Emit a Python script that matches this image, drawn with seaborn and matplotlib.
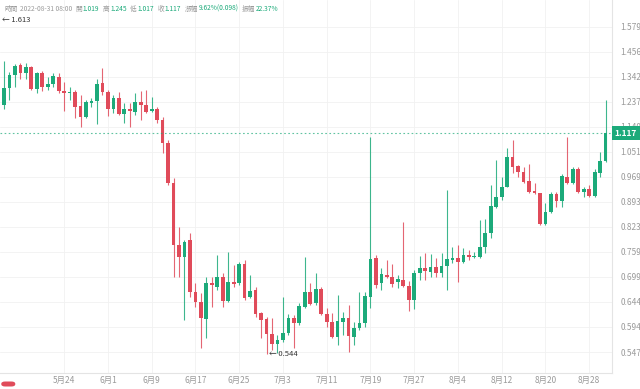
import numpy as np
import pandas as pd
import matplotlib
matplotlib.use("Agg")
import matplotlib.pyplot as plt
import matplotlib.dates as mdates
import matplotlib.transforms as mtransforms
from matplotlib.ticker import FixedLocator, NullLocator
from matplotlib.offsetbox import TextArea, HPacker, AnchoredOffsetbox
from matplotlib.patches import FancyBboxPatch
import seaborn as sns

# daily candles, 2022-05-13 .. 2022-08-31
dates = pd.date_range("2022-05-13", "2022-08-31", freq="D")

opens = [1.224, 1.294, 1.350, 1.395, 1.359, 1.386, 1.290, 1.359, 1.298, 1.311,
         1.341, 1.282, 1.273, 1.277, 1.220, 1.177, 1.232, 1.240, 1.316, 1.277,
         1.208, 1.253, 1.189, 1.208, 1.197, 1.236, 1.224, 1.201, 1.208, 1.166,
         1.082, 0.949, 0.775, 0.746, 0.788, 0.665, 0.644, 0.609, 0.685, 0.676,
         0.699, 0.646, 0.687, 0.685, 0.729, 0.654, 0.670, 0.621, 0.609, 0.580,
         0.561, 0.569, 0.582, 0.611, 0.601, 0.633, 0.665, 0.642, 0.672, 0.619,
         0.603, 0.574, 0.603, 0.611, 0.574, 0.592, 0.601, 0.654, 0.743, 0.685,
         0.703, 0.699, 0.687, 0.692, 0.678, 0.648, 0.708, 0.719, 0.710, 0.722,
         0.708, 0.724, 0.738, 0.743, 0.734, 0.750, 0.746, 0.746, 0.770, 0.806,
         0.878, 0.907, 0.937, 1.033, 1.003, 0.984, 0.956, 0.925, 0.918, 0.830,
         0.864, 0.916, 0.895, 0.968, 0.949, 0.994, 0.922, 0.931, 0.910, 0.980,
         1.019]
highs = [1.413, 1.364, 1.399, 1.404, 1.404, 1.390, 1.364, 1.368, 1.341, 1.359,
         1.359, 1.320, 1.298, 1.286, 1.265, 1.245, 1.253, 1.333, 1.381, 1.286,
         1.265, 1.277, 1.232, 1.232, 1.273, 1.282, 1.286, 1.257, 1.216, 1.177,
         1.092, 0.965, 0.822, 0.788, 0.806, 0.685, 0.663, 0.699, 0.699, 0.750,
         0.708, 0.758, 0.726, 0.734, 0.738, 0.703, 0.676, 0.623, 0.613, 0.611,
         0.578, 0.654, 0.619, 0.617, 0.642, 0.746, 0.685, 0.708, 0.676, 0.631,
         0.621, 0.659, 0.623, 0.638, 0.603, 0.665, 0.665, 1.103, 0.750, 0.719,
         0.738, 0.729, 0.703, 0.836, 0.690, 0.715, 0.748, 0.755, 0.753, 0.743,
         0.755, 0.928, 0.770, 0.775, 0.768, 0.763, 0.758, 0.841, 0.844, 0.943,
         1.023, 0.968, 1.064, 1.092, 1.007, 1.000, 1.010, 0.949, 0.920, 0.889,
         0.922, 0.922, 0.977, 1.103, 1.000, 1.000, 0.937, 0.943, 0.994, 1.050,
         1.245]
lows = [1.208, 1.245, 1.298, 1.333, 1.333, 1.286, 1.273, 1.282, 1.286, 1.298,
        1.273, 1.201, 1.245, 1.173, 1.139, 1.173, 1.216, 1.151, 1.265, 1.181,
        1.193, 1.185, 1.155, 1.139, 1.185, 1.166, 1.193, 1.197, 1.155, 1.047,
        0.943, 0.699, 0.699, 0.607, 0.654, 0.633, 0.554, 0.573, 0.633, 0.670,
        0.633, 0.644, 0.676, 0.680, 0.648, 0.652, 0.613, 0.573, 0.544, 0.551,
        0.546, 0.565, 0.578, 0.554, 0.597, 0.631, 0.638, 0.638, 0.617, 0.593,
        0.573, 0.560, 0.578, 0.547, 0.560, 0.588, 0.593, 0.631, 0.674, 0.670,
        0.696, 0.676, 0.674, 0.676, 0.625, 0.629, 0.692, 0.692, 0.699, 0.699,
        0.699, 0.670, 0.731, 0.687, 0.731, 0.738, 0.743, 0.743, 0.755, 0.793,
        0.875, 0.898, 0.937, 0.980, 0.968, 0.949, 0.918, 0.916, 0.828, 0.828,
        0.861, 0.878, 0.878, 0.947, 0.946, 0.918, 0.907, 0.907, 0.907, 0.968,
        1.017]
closes = [1.294, 1.350, 1.390, 1.359, 1.386, 1.290, 1.359, 1.298, 1.311, 1.346,
          1.282, 1.273, 1.277, 1.216, 1.177, 1.236, 1.240, 1.311, 1.277, 1.208,
          1.253, 1.189, 1.208, 1.201, 1.236, 1.224, 1.197, 1.208, 1.166, 1.082,
          0.949, 0.775, 0.746, 0.783, 0.665, 0.644, 0.611, 0.685, 0.680, 0.699,
          0.646, 0.687, 0.683, 0.729, 0.652, 0.667, 0.619, 0.607, 0.580, 0.561,
          0.569, 0.582, 0.611, 0.601, 0.635, 0.665, 0.640, 0.672, 0.619, 0.603,
          0.574, 0.605, 0.611, 0.576, 0.592, 0.601, 0.657, 0.741, 0.680, 0.705,
          0.699, 0.683, 0.694, 0.678, 0.648, 0.708, 0.719, 0.712, 0.722, 0.708,
          0.724, 0.741, 0.743, 0.734, 0.750, 0.746, 0.748, 0.770, 0.806, 0.881,
          0.907, 0.937, 1.033, 1.000, 0.984, 0.952, 0.922, 0.918, 0.830, 0.864,
          0.916, 0.895, 0.971, 0.949, 0.994, 0.922, 0.931, 0.910, 0.984, 1.019,
          1.117]

ytick_vals = [1.579, 1.456, 1.342, 1.237, 1.140, 1.051, 0.969, 0.893, 0.823,
              0.759, 0.699, 0.644, 0.594, 0.547]
xtick_dates = pd.date_range("2022-05-24", "2022-08-28", freq="8D")
last_price = 1.117
period_high = 1.613
period_low = 0.544

# (label, value) pairs of the top info line
header = [("時間", "2022-08-31 08:00"), ("開", "1.019"), ("高", "1.245"),
          ("低", "1.017"), ("收", "1.117"), ("漲幅", "9.62%(0.098)"),
          ("振幅", "22.37%")]

GREEN = "#1caa7a"
RED = "#e04b5a"
GRAY = "#9a9a9a"

sns.set_theme(style="white")
plt.rcParams["font.family"] = ["Noto Sans CJK TC", "DejaVu Sans"]

df = pd.DataFrame({"date": dates, "open": opens, "high": highs,
                   "low": lows, "close": closes})
df["x"] = mdates.date2num(df["date"])
df["up"] = df["close"] >= df["open"]
df["color"] = np.where(df["up"], GREEN, RED)
bot = np.minimum(df["open"], df["close"])
top = np.maximum(df["open"], df["close"])
top = np.maximum(top, bot * 1.004)   # keep doji bodies visible

fig = plt.figure(figsize=(6.4, 3.89), dpi=100)
ax = fig.add_axes([0, 16 / 389, 612 / 640, 373 / 389])

ax.vlines(df["x"], df["low"], df["high"], colors=df["color"], lw=0.8, alpha=0.85)
ax.bar(df["x"], top - bot, bottom=bot, width=0.68, color=df["color"], lw=0)

ax.set_yscale("log")
ax.set_ylim(0.5108, 1.724)
x0 = df["x"].iloc[0] - 0.73
ax.set_xlim(x0, x0 + 111.9)

ax.yaxis.tick_right()
ax.yaxis.set_major_locator(FixedLocator(ytick_vals))
ax.yaxis.set_minor_locator(NullLocator())
ax.set_yticklabels([f"{v:.3f}" for v in ytick_vals])
xt = mdates.date2num(xtick_dates)
ax.set_xticks(xt)
ax.set_xticklabels([f"{d.month}月{d.day}" for d in xtick_dates])
ax.tick_params(axis="y", length=0, pad=6, labelsize=6, labelcolor=GRAY)
ax.tick_params(axis="x", length=0, pad=2, labelsize=6, labelcolor=GRAY)
ax.grid(True, color="#f1f1f1", lw=0.6)
ax.set_axisbelow(True)
for s in ["top", "left"]:
    ax.spines[s].set_visible(False)
for s in ["right", "bottom"]:
    ax.spines[s].set_color("#e4e4e4")
    ax.spines[s].set_linewidth(0.8)

# last price line + tag
ax.axhline(last_price, color=GREEN, lw=0.8, ls=(0, (1.5, 2.2)), alpha=0.7)
tr = mtransforms.blended_transform_factory(ax.transAxes, ax.transData)
ax.text(1.004, last_price, f"{last_price:.3f}", transform=tr, ha="left",
        va="center", fontsize=6, color="white", fontweight="bold",
        bbox=dict(boxstyle="square,pad=0.35", fc=GREEN, ec="none"),
        clip_on=False, zorder=5)

# high / low markers
ax.text(0.003, period_high, "← 1.613", transform=tr, ha="left", va="center",
        fontsize=5.5, color="#333333")
imin = int(np.argmin(df["low"]))
ax.text(df["x"].iloc[imin] + 0.4, period_low, f"← {period_low:.3f}",
        ha="left", va="center", fontsize=5.5, color="#333333")

# header line
fs = 4.8
groups = []
for lab, val in header:
    vcol = GRAY if lab == "時間" else GREEN
    pair = HPacker(children=[TextArea(lab, textprops=dict(color=GRAY, fontsize=fs)),
                             TextArea(val, textprops=dict(color=vcol, fontsize=fs))],
                   align="center", pad=0, sep=1.5 if lab == "時間" else 0.3)
    groups.append(pair)
row = HPacker(children=groups, align="center", pad=0, sep=2.6)
anch = AnchoredOffsetbox(loc="upper left", child=row, pad=0.3, borderpad=0,
                         frameon=False, bbox_to_anchor=(0, 1),
                         bbox_transform=fig.transFigure)
fig.add_artist(anch)

# small red badge bottom-left
fig.patches.append(FancyBboxPatch((0.002, 2.5 / 389), 14 / 640, 5 / 389,
                                  boxstyle="round,pad=0,rounding_size=0.006",
                                  transform=fig.transFigure, fc=RED, ec="none"))

fig.savefig("out.png", dpi=100)
